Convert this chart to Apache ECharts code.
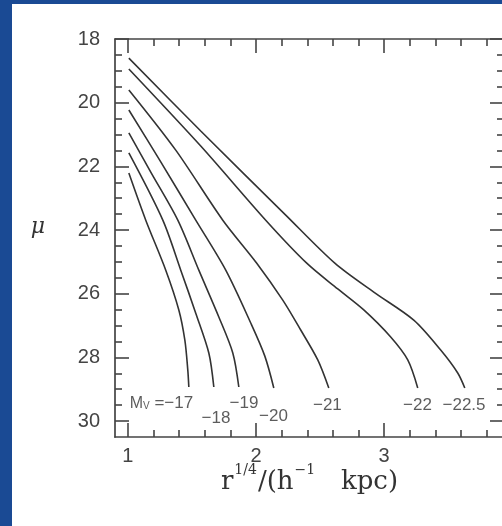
<!DOCTYPE html>
<html>
<head>
<meta charset="utf-8">
<script src="https://cdn.jsdelivr.net/npm/echarts@6/dist/echarts.min.js"></script>
<style>
  html, body { margin: 0; padding: 0; width: 502px; height: 526px; overflow: hidden; background: #1a4a94; }
  #panel { position: absolute; left: 12px; top: 4px; width: 490px; height: 522px; background: #ffffff; }
  #chart { position: absolute; left: 0; top: 0; width: 506px; height: 526px; }
</style>
</head>
<body>
<div id="panel"></div>
<div id="chart"></div>
<script>
// ---- data ----
const xMajorTicks = [1, 2, 3];
const xMinorTicks = [1.2, 1.4, 1.6, 1.8, 2.2, 2.4, 2.6, 2.8, 3.2, 3.4, 3.6, 3.8];
const yMajorTicks = [18, 20, 22, 24, 26, 28, 30];
const yMinorTicks = [18.5, 19, 19.5, 20.5, 21, 21.5, 22.5, 23, 23.5, 24.5, 25, 25.5, 26.5, 27, 27.5, 28.5, 29, 29.5];

const curveNames = ['−17', '−18', '−19', '−20', '−21', '−22', '−22.5'];

const r17 = [1.008, 1.140, 1.296, 1.398, 1.445, 1.468, 1.476];
const mu17 = [22.21, 23.69, 25.26, 26.51, 27.46, 28.40, 28.93];

const r18 = [1.008, 1.273, 1.413, 1.530, 1.632, 1.671];
const mu18 = [21.58, 23.69, 25.26, 26.61, 27.86, 28.93];

const r19 = [1.008, 1.179, 1.390, 1.554, 1.710, 1.819, 1.866];
const mu19 = [20.95, 22.18, 23.69, 25.26, 26.73, 27.86, 28.93];

const r20 = [1.008, 1.257, 1.530, 1.764, 1.959, 2.069, 2.139];
const mu20 = [20.23, 21.86, 23.69, 25.26, 26.92, 27.96, 28.96];

const r21 = [1.008, 1.374, 1.741, 2.006, 2.209, 2.349, 2.482, 2.568];
const mu21 = [19.60, 21.49, 23.69, 25.04, 26.20, 27.14, 28.08, 28.96];

const r22 = [1.008, 1.569, 2.076, 2.396, 2.638, 2.841, 3.051, 3.184, 3.262];
const mu22 = [18.94, 21.36, 23.69, 25.04, 25.85, 26.51, 27.36, 28.08, 28.96];

const r225 = [1.008, 1.569, 2.232, 2.615, 2.919, 3.231, 3.441, 3.574, 3.629];
const mu225 = [18.60, 20.89, 23.53, 25.04, 25.95, 26.83, 27.77, 28.49, 28.96];

// curve labels (data coordinates of label centres)
const labelX = [1.262, 1.688, 1.906, 2.136, 2.557, 3.260, 3.623];
const labelY = [29.44, 29.91, 29.44, 29.84, 29.50, 29.50, 29.50];

// ---- build ----
const xs = [r17, r18, r19, r20, r21, r22, r225];
const ys = [mu17, mu18, mu19, mu20, mu21, mu22, mu225];

const axisColor = '#444';
const X_MIN = 0.9, X_MAX = 3.935, Y_MIN = 18, Y_MAX = 30.5;

function xAx(position, ticks, len, showLine, showLabel, extra) {
  return Object.assign({
    type: 'value', position: position, min: X_MIN, max: X_MAX,
    axisLine: { show: showLine, onZero: false, lineStyle: { color: axisColor, width: 1.7 } },
    axisTick: { show: true, inside: true, length: len, customValues: ticks, lineStyle: { color: axisColor, width: 1.6 } },
    axisLabel: showLabel ? { show: true, customValues: ticks, margin: 9, fontSize: 20, color: '#444', fontFamily: 'Liberation Sans' } : { show: false },
    splitLine: { show: false }
  }, extra || {});
}
function yAx(position, ticks, len, showLine, showLabel, extra) {
  return Object.assign({
    type: 'value', position: position, min: Y_MIN, max: Y_MAX, inverse: true,
    axisLine: { show: showLine, onZero: false, lineStyle: { color: axisColor, width: 1.7 } },
    axisTick: { show: true, inside: true, length: len, customValues: ticks, lineStyle: { color: axisColor, width: 1.6 } },
    axisLabel: showLabel ? { show: true, customValues: ticks, margin: 15, fontSize: 20, color: '#444', fontFamily: 'Liberation Sans' } : { show: false },
    splitLine: { show: false }
  }, extra || {});
}

const series = xs.map((arr, i) => ({
  name: curveNames[i],
  type: 'line',
  xAxisIndex: 0, yAxisIndex: 0,
  data: arr.map((v, j) => [v, ys[i][j]]),
  showSymbol: false,
  smooth: 0.3,
  lineStyle: { color: '#333', width: 1.6 },
  silent: true
}));

series.push({
  type: 'scatter',
  xAxisIndex: 0, yAxisIndex: 0,
  symbolSize: 0,
  data: labelX.map((v, i) => [v, labelY[i]]),
  label: {
    show: true, position: 'inside',
    formatter: p => p.dataIndex === 0 ? '{m|M}{v|V}{t| =' + curveNames[0] + '}' : '{t|' + curveNames[p.dataIndex] + '}',
    rich: {
      m: { fontFamily: 'Liberation Sans', fontSize: 16, color: '#333' },
      v: { fontFamily: 'Liberation Sans', fontSize: 10, color: '#333', verticalAlign: 'bottom', padding: [6, 0, 0, 0] },
      t: { fontFamily: 'Liberation Sans', fontSize: 17, color: '#333' }
    }
  },
  silent: true
});

const chart = echarts.init(document.getElementById('chart'));
chart.setOption({
  animation: false,
  backgroundColor: 'transparent',
  grid: { left: 115, top: 39, right: 2, bottom: 89 },
  xAxis: [
    xAx('bottom', xMajorTicks, 14, true, true, {
      name: '{a|r}{s|1/4}{a|/(h}{s|−1}{a|   kpc)}',
      nameLocation: 'middle', nameGap: 22, nameMoveOverlap: false,
      nameTextStyle: {
        fontFamily: 'DejaVu Serif',
        rich: {
          a: { fontFamily: 'DejaVu Serif', fontSize: 26, color: '#333', lineHeight: 36, verticalAlign: 'bottom' },
          s: { fontFamily: 'DejaVu Serif', fontSize: 14, color: '#333', lineHeight: 36, verticalAlign: 'top', padding: [4, 1, 0, 1] }
        }
      }
    }),
    xAx('bottom', xMinorTicks, 7, false, false),
    xAx('top', xMajorTicks, 14, true, false),
    xAx('top', xMinorTicks, 7, false, false)
  ],
  yAxis: [
    yAx('left', yMajorTicks, 14, true, true, {
      name: 'μ', nameLocation: 'middle', nameRotate: 0, nameGap: 70, nameMoveOverlap: false,
      nameTextStyle: { fontFamily: 'DejaVu Serif', fontStyle: 'italic', fontSize: 22, color: '#333', verticalAlign: 'bottom', lineHeight: 22 }
    }),
    yAx('left', yMinorTicks, 7, false, false),
    yAx('right', yMajorTicks, 14, true, false),
    yAx('right', yMinorTicks, 7, false, false)
  ],
  series: series
});
</script>
</body>
</html>
